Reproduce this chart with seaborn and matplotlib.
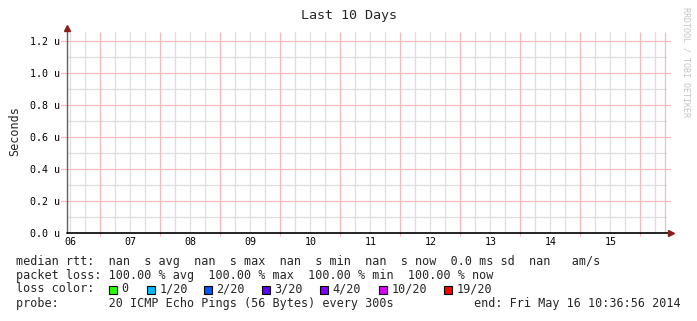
import numpy as np
import pandas as pd
import matplotlib
matplotlib.use("Agg")
import matplotlib.pyplot as plt
import matplotlib.dates as mdates
from matplotlib.ticker import MultipleLocator, FuncFormatter
from matplotlib.patches import Rectangle
from matplotlib.lines import Line2D
import seaborn as sns

# ---------------- data ----------------
title = "Last 10 Days"
end_time = "2014-05-16 10:36:56"
day_labels = ["06", "07", "08", "09", "10", "11", "12", "13", "14", "15"]
sample_times = ["2014-05-06 10:36:56", "2014-05-16 10:36:56"]
median_rtt = [np.nan, np.nan]          # every sample is NaN (100 % loss)
y_ticks_u = [0.0, 0.2, 0.4, 0.6, 0.8, 1.0, 1.2]
loss_labels = ["0", "1/20", "2/20", "3/20", "4/20", "10/20", "19/20"]
loss_colors = ["#26ff00", "#00b8ff", "#0059ff", "#5e00ff", "#7e00ff", "#dd00ff", "#ff0000"]
median_line = "median rtt:  nan  s avg  nan  s max  nan  s min  nan  s now  0.0 ms sd  nan   am/s"
loss_line = "packet loss: 100.00 % avg  100.00 % max  100.00 % min  100.00 % now"
probe_line = "probe:       20 ICMP Echo Pings (56 Bytes) every 300s"
end_line = "end: Fri May 16 10:36:56 2014"
watermark = "RRDTOOL / TOBI OETIKER"

# ---------------- style ----------------
sns.set_style("white")
MONO = "DejaVu Sans Mono"
plt.rcParams["font.family"] = [MONO, "DejaVu Sans"]
GRID = "#dedede"
MGRID = "#f4bcbc"
ARROW = "#8b1c1c"

W, H = 697, 321
fig = plt.figure(figsize=(W / 100, H / 100), dpi=100)
fig.patch.set_facecolor("white")
fx = lambda px: px / W
fy = lambda py: 1 - py / H

ax = fig.add_axes([fx(67), fy(233), 600 / W, 201 / H])
ax.set_facecolor("white")

end = pd.Timestamp(end_time)
start = end - pd.Timedelta(days=10)
x0, x1 = mdates.date2num(start), mdates.date2num(end)

df = pd.DataFrame({"t": mdates.date2num(pd.to_datetime(sample_times)), "rtt": median_rtt})
sns.lineplot(data=df, x="t", y="rtt", ax=ax, color="#00aa00")

ax.set_xlim(x0, x1)
ax.set_ylim(0, 1.256e-6)

# x: labels at noon, grey grid every 6h, red grid at midnight
noons = [mdates.date2num(pd.Timestamp(f"2014-05-{d} 12:00")) for d in day_labels]
ax.set_xticks(noons)
ax.set_xticklabels(day_labels)
ax.xaxis.set_minor_locator(mdates.HourLocator(byhour=[6, 18]))
ax.grid(True, which="major", axis="x", color=GRID, lw=0.9)
ax.grid(True, which="minor", axis="x", color=GRID, lw=0.9)
midnights = mdates.DayLocator().tick_values(start, end)
midnights = [m for m in midnights if x0 < m < x1]
ax.vlines(midnights, -0.015, 1, transform=ax.get_xaxis_transform(),
          color=MGRID, lw=0.9, clip_on=False, zorder=1)
ax.vlines([x1 - 0.035], 0, 1, transform=ax.get_xaxis_transform(),
          color=MGRID, lw=0.9, zorder=1)

# y: red majors 0.2u, grey minors 0.1u
ax.set_yticks([v * 1e-6 for v in y_ticks_u])
ax.yaxis.set_major_formatter(FuncFormatter(lambda v, p: f"{v * 1e6:.1f} u"))
ax.yaxis.set_minor_locator(MultipleLocator(0.1e-6))
ax.grid(True, which="minor", axis="y", color=GRID, lw=0.9)
for v in y_ticks_u[1:]:
    ax.add_line(Line2D([-0.01, 1.005], [v * 1e-6, v * 1e-6],
                       transform=ax.get_yaxis_transform(), color=MGRID, lw=0.9,
                       clip_on=False, zorder=1))

ax.tick_params(axis="both", which="both", length=0, labelsize=7.2, colors="black")
ax.tick_params(axis="x", pad=3)
ax.tick_params(axis="y", pad=5)
ax.set_axisbelow(True)

for s in ["top", "right", "left", "bottom"]:
    ax.spines[s].set_visible(False)
# axes lines with arrows
ax.add_line(Line2D([0, 0], [0, 1.02], transform=ax.transAxes, color="#606060",
                   lw=1.0, clip_on=False, zorder=5))
ax.add_line(Line2D([0, 1.002], [0, 0], transform=ax.transAxes, color="black",
                   lw=1.2, clip_on=False, zorder=5))
ax.plot([0], [1.02], marker="^", ms=5, color=ARROW, transform=ax.transAxes,
        clip_on=False, zorder=6)
ax.plot([1.007], [0], marker=">", ms=5, color=ARROW, transform=ax.transAxes,
        clip_on=False, zorder=6)

ax.set_xlabel("")
ax.set_ylabel("")
FS = 8.5
fig.text(fx(15), fy(131), "Seconds", rotation=90, ha="center", va="center",
         fontsize=FS, family=MONO)

# title and watermark
fig.text(fx(349), fy(16), title, ha="center", va="center", fontsize=9.6, family=MONO)
fig.text(fx(686), fy(62), watermark, rotation=270, ha="center", va="center",
         fontsize=6, family=MONO, color="#c4c4c4")

# legend block
fig.text(fx(16), fy(261), median_line, ha="left", va="center", fontsize=FS, family=MONO)
fig.text(fx(16), fy(275), loss_line, ha="left", va="center", fontsize=FS, family=MONO)
fig.text(fx(16), fy(289), "loss color:", ha="left", va="center", fontsize=FS, family=MONO)
box_x = [109, 147, 204, 262, 320, 379, 444]
for lab, col, bx in zip(loss_labels, loss_colors, box_x):
    fig.add_artist(Rectangle((fx(bx), fy(293.5)), 8 / W, 8 / H, transform=fig.transFigure,
                             facecolor=col, edgecolor="black", lw=0.8))
    fig.text(fx(bx + 12.5), fy(289), lab, ha="left", va="center", fontsize=FS, family=MONO)
fig.text(fx(16), fy(303), probe_line, ha="left", va="center", fontsize=FS, family=MONO)
fig.text(fx(681), fy(303), end_line, ha="right", va="center", fontsize=FS, family=MONO)

fig.savefig("out.png", dpi=100, facecolor="white")
